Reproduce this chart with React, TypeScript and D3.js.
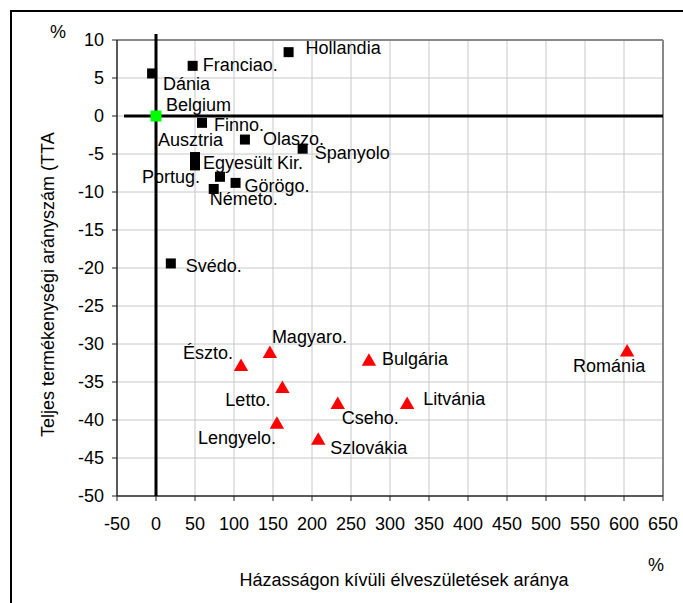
import React from "react";
import * as d3 from "d3";

// EU-15 (black squares)
const westNames = ["Hollandia", "Franciao.", "Dánia", "Finno.", "Olaszo.", "Spanyolo", "Ausztria", "Egyesült Kir.", "Portug.", "Görögo.", "Németo.", "Svédo."];
const westX = [170, 47, -5, 59, 114, 188, 50, 50, 82, 102, 74, 19];
const westY = [8.4, 6.6, 5.6, -0.9, -3.1, -4.3, -5.4, -6.5, -8.0, -8.8, -9.6, -19.4];

// highlighted point
const belgiumName = "Belgium";
const belgiumX = [0];
const belgiumY = [0];

// new members (red triangles)
const eastNames = ["Magyaro.", "Észto.", "Bulgária", "Letto.", "Cseho.", "Litvánia", "Lengyelo.", "Szlovákia", "Románia"];
const eastX = [146, 109, 273, 162, 233, 322, 155, 208, 604];
const eastY = [-31.3, -33.0, -32.3, -35.9, -38.0, -38.0, -40.6, -42.7, -31.1];

const xTicks = [-50, 0, 50, 100, 150, 200, 250, 300, 350, 400, 450, 500, 550, 600, 650];
const yTicks = [10, 5, 0, -5, -10, -15, -20, -25, -30, -35, -40, -45, -50];

// label placement (px from marker: text start, text middle)
const labelOffset: Record<string, [number, number]> = {
  "Hollandia": [17, -4], "Franciao.": [10, -1], "Dánia": [11, 10], "Belgium": [10, -11],
  "Finno.": [12, 2], "Olaszo.": [18, -1], "Spanyolo": [12, 4], "Ausztria": [-37, -17],
  "Egyesült Kir.": [8, -3], "Portug.": [-78, 0], "Görögo.": [9, 3], "Németo.": [-4, 10],
  "Svédo.": [15, 2], "Magyaro.": [2, -17], "Észto.": [-58, -14], "Bulgária": [13, -3],
  "Letto.": [-57, 11], "Cseho.": [4, 13], "Litvánia": [16, -6], "Lengyelo.": [-79, 13],
  "Szlovákia": [12, 7], "Románia": [-54, 13],
};

const W = 683, H = 603;
const left = 117, right = 663, top = 40, bottom = 496;
const font = "'Liberation Sans', Arial, sans-serif";

export default function App() {
  const x = d3.scaleLinear().domain([-50, 650]).range([left, right]);
  const y = d3.scaleLinear().domain([-50, 10]).range([bottom, top]);
  const tri = d3.symbol().type(d3.symbolTriangle).size(90)();

  const label = (name: string, px: number, py: number) => {
    const [dx, dy] = labelOffset[name] || [10, 0];
    return (
      <text key={"l" + name} x={px + dx} y={py + dy} dy="0.35em" fontSize={18}>{name}</text>
    );
  };

  return (
    <svg width={W} height={H} style={{ position: "absolute", left: 0, top: 0, fontFamily: font }}>
      <rect width={W} height={H} fill="#fff" />
      <rect x={11} y={11} width={720} height={700} fill="none" stroke="#000" strokeWidth={2} />

      {/* grid */}
      {xTicks.slice(1).map((t) => (
        <line key={"gx" + t} x1={x(t)} x2={x(t)} y1={top} y2={bottom} stroke="#c8c8c8" strokeWidth={1} />
      ))}
      {yTicks.slice(0, -1).map((t) => (
        <line key={"gy" + t} x1={left} x2={right} y1={y(t)} y2={y(t)} stroke="#c8c8c8" strokeWidth={1} />
      ))}
      <line x1={left} x2={right} y1={top} y2={top} stroke="#888" strokeWidth={2} />
      <line x1={right} x2={right} y1={top} y2={bottom} stroke="#888" strokeWidth={2} />

      {/* axes */}
      <line x1={left} x2={left} y1={top} y2={bottom} stroke="#222" strokeWidth={1.5} />
      <line x1={left} x2={right} y1={bottom} y2={bottom} stroke="#222" strokeWidth={1.5} />
      {yTicks.map((t) => (
        <g key={"ty" + t}>
          <line x1={left - 5} x2={left} y1={y(t)} y2={y(t)} stroke="#222" />
          <text x={left - 13} y={y(t)} dy="0.35em" textAnchor="end" fontSize={18}>{t}</text>
        </g>
      ))}
      {xTicks.map((t) => (
        <g key={"tx" + t}>
          <line x1={x(t)} x2={x(t)} y1={bottom} y2={bottom + 5} stroke="#222" />
          <text x={x(t)} y={bottom + 28} dy="0.35em" textAnchor="middle" fontSize={18}>{t}</text>
        </g>
      ))}

      {/* zero lines */}
      <line x1={x(0)} x2={x(0)} y1={top - 6} y2={bottom} stroke="#000" strokeWidth={3} />
      <line x1={left + 7} x2={right} y1={y(0)} y2={y(0)} stroke="#000" strokeWidth={3} />

      {/* west */}
      {westNames.map((n, i) => (
        <rect key={"w" + n} x={x(westX[i]) - 5} y={y(westY[i]) - 5} width={10} height={10} fill="#000" />
      ))}
      {westNames.map((n, i) => label(n, x(westX[i]), y(westY[i])))}

      {/* Belgium */}
      <rect x={x(belgiumX[0]) - 5.5} y={y(belgiumY[0]) - 5.5} width={11} height={11} fill="#00ff00" />
      {label(belgiumName, x(belgiumX[0]), y(belgiumY[0]))}

      {/* east */}
      {eastNames.map((n, i) => (
        <path key={"e" + n} d={tri || ""} transform={`translate(${x(eastX[i])},${y(eastY[i])})`} fill="#ff0000" />
      ))}
      {eastNames.map((n, i) => label(n, x(eastX[i]), y(eastY[i])))}

      {/* titles */}
      <text x={58} y={32} dy="0.35em" textAnchor="middle" fontSize={18}>%</text>
      <text x={656} y={565} dy="0.35em" textAnchor="middle" fontSize={18}>%</text>
      <text x={404} y={580} dy="0.35em" textAnchor="middle" fontSize={18}>Házasságon kívüli élveszületések aránya</text>
      <text transform="translate(48,437) rotate(-90)" dy="0.35em" textAnchor="start" fontSize={18}>Teljes termékenységi arányszám (TTA</text>
    </svg>
  );
}
